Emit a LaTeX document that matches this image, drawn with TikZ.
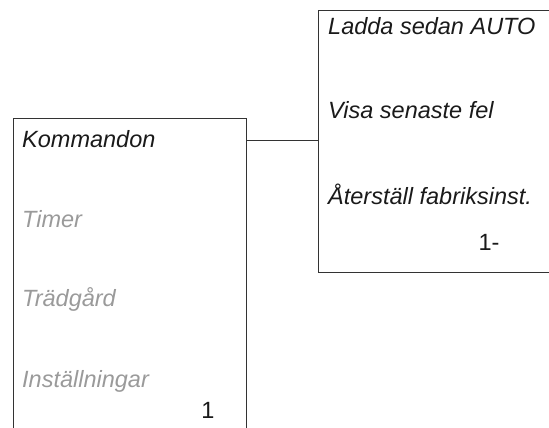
\documentclass[tikz,border=0pt]{standalone}
\usepackage{fontspec}
\setmainfont{Liberation Sans}
\definecolor{inkline}{HTML}{333333}
\definecolor{inktext}{HTML}{1A1A1A}
\definecolor{inkgrey}{HTML}{9A9A9A}
\tikzset{
    menuitem/.style={anchor=base west, inner sep=0pt, font=\fontsize{23.5}{26}\selectfont\itshape},
    menunum/.style={anchor=base, inner sep=0pt, font=\fontsize{23.5}{26}\selectfont, text=inktext},
    frame/.style={draw=inkline, line width=1pt}
}
\begin{document}
\begin{tikzpicture}[x=1pt, y=-1pt]
    \useasboundingbox (0,0) rectangle (549,428);

    % Main menu
    \begin{scope}
        \draw[frame] (13,428) -- (13,118) -- (246,118) -- (246,428);
        \node[menuitem, text=inktext] (kommandon) at (22,147) {Kommandon};
        \node[menuitem, text=inkgrey] (timer) at (22,227) {Timer};
        \node[menuitem, text=inkgrey] (tradgard) at (22,306) {Trädgård};
        \node[menuitem, text=inkgrey] (installn) at (22,387) {Inställningar};
        \node[menunum] (numA) at (208,418) {1};
        \coordinate (menuR) at (246,140);
    \end{scope}

    % Sub menu
    \begin{scope}
        \draw[frame] (549,11) -- (318,11) -- (318,272) -- (549,272);
        \node[menuitem, text=inktext] (ladda) at (328,35) {Ladda sedan AUTO};
        \node[menuitem, text=inktext] (visafel) at (328,118) {Visa senaste fel};
        \node[menuitem, text=inktext] (aterst) at (328,204) {Återställ fabriksinst.};
        \node[menunum] (numB) at (489,250) {1-};
        \coordinate (subL) at (318,140);
    \end{scope}

    \draw[frame] (menuR) -- (subL);
\end{tikzpicture}
\end{document}
